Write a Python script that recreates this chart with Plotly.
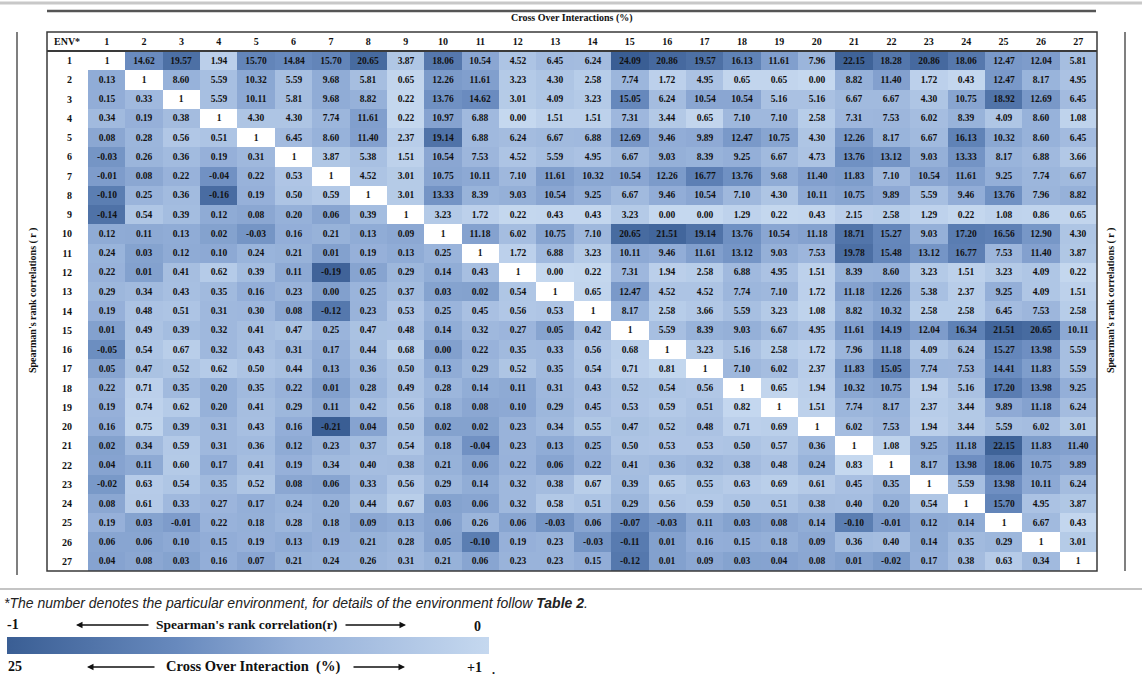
import plotly.graph_objects as go

# environments (rows / columns of the table)
env = [str(i) for i in range(1, 28)]

# lower triangle = Spearman's rank correlation (r), upper triangle = cross over interactions (%)
table_rows = [
    [1, 14.62, 19.57, 1.94, 15.70, 14.84, 15.70, 20.65, 3.87, 18.06, 10.54, 4.52, 6.45, 6.24, 24.09, 20.86, 19.57, 16.13, 11.61, 7.96, 22.15, 18.28, 20.86, 18.06, 12.47, 12.04, 5.81],
    [0.13, 1, 8.60, 5.59, 10.32, 5.59, 9.68, 5.81, 0.65, 12.26, 11.61, 3.23, 4.30, 2.58, 7.74, 1.72, 4.95, 0.65, 0.65, 0.00, 8.82, 11.40, 1.72, 0.43, 12.47, 8.17, 4.95],
    [0.15, 0.33, 1, 5.59, 10.11, 5.81, 9.68, 8.82, 0.22, 13.76, 14.62, 3.01, 4.09, 3.23, 15.05, 6.24, 10.54, 10.54, 5.16, 5.16, 6.67, 6.67, 4.30, 10.75, 18.92, 12.69, 6.45],
    [0.34, 0.19, 0.38, 1, 4.30, 4.30, 7.74, 11.61, 0.22, 10.97, 6.88, 0.00, 1.51, 1.51, 7.31, 3.44, 0.65, 7.10, 7.10, 2.58, 7.31, 7.53, 6.02, 8.39, 4.09, 8.60, 1.08],
    [0.08, 0.28, 0.56, 0.51, 1, 6.45, 8.60, 11.40, 2.37, 19.14, 6.88, 6.24, 6.67, 6.88, 12.69, 9.46, 9.89, 12.47, 10.75, 4.30, 12.26, 8.17, 6.67, 16.13, 10.32, 8.60, 6.45],
    [-0.03, 0.26, 0.36, 0.19, 0.31, 1, 3.87, 5.38, 1.51, 10.54, 7.53, 4.52, 5.59, 4.95, 6.67, 9.03, 8.39, 9.25, 6.67, 4.73, 13.76, 13.12, 9.03, 13.33, 8.17, 6.88, 3.66],
    [-0.01, 0.08, 0.22, -0.04, 0.22, 0.53, 1, 4.52, 3.01, 10.75, 10.11, 7.10, 11.61, 10.32, 10.54, 12.26, 16.77, 13.76, 9.68, 11.40, 11.83, 7.10, 10.54, 11.61, 9.25, 7.74, 6.67],
    [-0.10, 0.25, 0.36, -0.16, 0.19, 0.50, 0.59, 1, 3.01, 13.33, 8.39, 9.03, 10.54, 9.25, 6.67, 9.46, 10.54, 7.10, 4.30, 10.11, 10.75, 9.89, 5.59, 9.46, 13.76, 7.96, 8.82],
    [-0.14, 0.54, 0.39, 0.12, 0.08, 0.20, 0.06, 0.39, 1, 3.23, 1.72, 0.22, 0.43, 0.43, 3.23, 0.00, 0.00, 1.29, 0.22, 0.43, 2.15, 2.58, 1.29, 0.22, 1.08, 0.86, 0.65],
    [0.12, 0.11, 0.13, 0.02, -0.03, 0.16, 0.21, 0.13, 0.09, 1, 11.18, 6.02, 10.75, 7.10, 20.65, 21.51, 19.14, 13.76, 10.54, 11.18, 18.71, 15.27, 9.03, 17.20, 16.56, 12.90, 4.30],
    [0.24, 0.03, 0.12, 0.10, 0.24, 0.21, 0.01, 0.19, 0.13, 0.25, 1, 1.72, 6.88, 3.23, 10.11, 9.46, 11.61, 13.12, 9.03, 7.53, 19.78, 15.48, 13.12, 16.77, 7.53, 11.40, 3.87],
    [0.22, 0.01, 0.41, 0.62, 0.39, 0.11, -0.19, 0.05, 0.29, 0.14, 0.43, 1, 0.00, 0.22, 7.31, 1.94, 2.58, 6.88, 4.95, 1.51, 8.39, 8.60, 3.23, 1.51, 3.23, 4.09, 0.22],
    [0.29, 0.34, 0.43, 0.35, 0.16, 0.23, 0.00, 0.25, 0.37, 0.03, 0.02, 0.54, 1, 0.65, 12.47, 4.52, 4.52, 7.74, 7.10, 1.72, 11.18, 12.26, 5.38, 2.37, 9.25, 4.09, 1.51],
    [0.19, 0.48, 0.51, 0.31, 0.30, 0.08, -0.12, 0.23, 0.53, 0.25, 0.45, 0.56, 0.53, 1, 8.17, 2.58, 3.66, 5.59, 3.23, 1.08, 8.82, 10.32, 2.58, 2.58, 6.45, 7.53, 2.58],
    [0.01, 0.49, 0.39, 0.32, 0.41, 0.47, 0.25, 0.47, 0.48, 0.14, 0.32, 0.27, 0.05, 0.42, 1, 5.59, 8.39, 9.03, 6.67, 4.95, 11.61, 14.19, 12.04, 16.34, 21.51, 20.65, 10.11],
    [-0.05, 0.54, 0.67, 0.32, 0.43, 0.31, 0.17, 0.44, 0.68, 0.00, 0.22, 0.35, 0.33, 0.56, 0.68, 1, 3.23, 5.16, 2.58, 1.72, 7.96, 11.18, 4.09, 6.24, 15.27, 13.98, 5.59],
    [0.05, 0.47, 0.52, 0.62, 0.50, 0.44, 0.13, 0.36, 0.50, 0.13, 0.29, 0.52, 0.35, 0.54, 0.71, 0.81, 1, 7.10, 6.02, 2.37, 11.83, 15.05, 7.74, 7.53, 14.41, 11.83, 5.59],
    [0.22, 0.71, 0.35, 0.20, 0.35, 0.22, 0.01, 0.28, 0.49, 0.28, 0.14, 0.11, 0.31, 0.43, 0.52, 0.54, 0.56, 1, 0.65, 1.94, 10.32, 10.75, 1.94, 5.16, 17.20, 13.98, 9.25],
    [0.19, 0.74, 0.62, 0.20, 0.41, 0.29, 0.11, 0.42, 0.56, 0.18, 0.08, 0.10, 0.29, 0.45, 0.53, 0.59, 0.51, 0.82, 1, 1.51, 7.74, 8.17, 2.37, 3.44, 9.89, 11.18, 6.24],
    [0.16, 0.75, 0.39, 0.31, 0.43, 0.16, -0.21, 0.04, 0.50, 0.02, 0.02, 0.23, 0.34, 0.55, 0.47, 0.52, 0.48, 0.71, 0.69, 1, 6.02, 7.53, 1.94, 3.44, 5.59, 6.02, 3.01],
    [0.02, 0.34, 0.59, 0.31, 0.36, 0.12, 0.23, 0.37, 0.54, 0.18, -0.04, 0.23, 0.13, 0.25, 0.50, 0.53, 0.53, 0.50, 0.57, 0.36, 1, 1.08, 9.25, 11.18, 22.15, 11.83, 11.40],
    [0.04, 0.11, 0.60, 0.17, 0.41, 0.19, 0.34, 0.40, 0.38, 0.21, 0.06, 0.22, 0.06, 0.22, 0.41, 0.36, 0.32, 0.38, 0.48, 0.24, 0.83, 1, 8.17, 13.98, 18.06, 10.75, 9.89],
    [-0.02, 0.63, 0.54, 0.35, 0.52, 0.08, 0.06, 0.33, 0.56, 0.29, 0.14, 0.32, 0.38, 0.67, 0.39, 0.65, 0.55, 0.63, 0.69, 0.61, 0.45, 0.35, 1, 5.59, 13.98, 10.11, 6.24],
    [0.08, 0.61, 0.33, 0.27, 0.17, 0.24, 0.20, 0.44, 0.67, 0.03, 0.06, 0.32, 0.58, 0.51, 0.29, 0.56, 0.59, 0.50, 0.51, 0.38, 0.40, 0.20, 0.54, 1, 15.70, 4.95, 3.87],
    [0.19, 0.03, -0.01, 0.22, 0.18, 0.28, 0.18, 0.09, 0.13, 0.06, 0.26, 0.06, -0.03, 0.06, -0.07, -0.03, 0.11, 0.03, 0.08, 0.14, -0.10, -0.01, 0.12, 0.14, 1, 6.67, 0.43],
    [0.06, 0.06, 0.10, 0.15, 0.19, 0.13, 0.19, 0.21, 0.28, 0.05, -0.10, 0.19, 0.23, -0.03, -0.11, 0.01, 0.16, 0.15, 0.18, 0.09, 0.36, 0.40, 0.14, 0.35, 0.29, 1, 3.01],
    [0.04, 0.08, 0.03, 0.16, 0.07, 0.21, 0.24, 0.26, 0.31, 0.21, 0.06, 0.23, 0.23, 0.15, -0.12, 0.01, 0.09, 0.03, 0.04, 0.08, 0.01, -0.02, 0.17, 0.38, 0.63, 0.34, 1],
]

W, H = 1142, 677
SERIF = "Liberation Serif"


def px(x):
    return x / W


def py(y):
    return 1 - y / H


def shade(i, j, v):
    # 0 = darkest blue, 1 = lightest blue
    if j > i:  # cross over %
        s = 1 - v / 23
    elif v >= 0:  # correlation
        s = 0.5 + 0.6 * v
    else:
        s = 0.5 + 2.4 * v
    return min(max(s, 0), 1)


z, txt, zdiag, tdiag = [], [], [], []
for i, row in enumerate(table_rows):
    z.append([None if i == j else shade(i, j, v) for j, v in enumerate(row)])
    txt.append(["" if i == j else f"{v:.2f}" for j, v in enumerate(row)])
    zdiag.append([1 if i == j else None for j in range(len(row))])
    tdiag.append(["1" if i == j else "" for j in range(len(row))])

blues = [[0, "#3a5e94"], [0.35, "#6789bd"], [0.6, "#94afd8"], [1, "#c5d8ef"]]
cell_font = dict(family=SERIF, size=9.5, color="#111", weight="bold")

fig = go.Figure()
fig.add_trace(go.Heatmap(
    x=env, y=env, z=z, text=txt, texttemplate="%{text}", textfont=cell_font,
    colorscale=blues, zmin=0, zmax=1, hoverongaps=False,
    colorbar=dict(orientation="h", x=px(7), xanchor="left", y=py(637), yanchor="top",
                  len=482, lenmode="pixels", thickness=17, thicknessmode="pixels",
                  outlinewidth=0, showticklabels=False, ticks="", xpad=0, ypad=0),
))
fig.add_trace(go.Heatmap(
    x=env, y=env, z=zdiag, text=tdiag, texttemplate="%{text}", textfont=cell_font,
    colorscale=[[0, "white"], [1, "white"]], showscale=False, hoverongaps=False,
))

fig.update_xaxes(domain=[px(88), px(1097)], side="top", type="category", showgrid=False,
                 zeroline=False, ticks="", ticklabelstandoff=3,
                 tickfont=dict(family=SERIF, size=10, color="#111", weight="bold"))
fig.update_yaxes(domain=[py(571), py(51)], autorange="reversed", type="category", showgrid=False,
                 zeroline=False, ticks="", ticklabelstandoff=15,
                 tickfont=dict(family=SERIF, size=10, color="#111", weight="bold"))

line_dark = dict(color="#3a3a3a", width=1.5)
shapes = [
    dict(type="line", x0=0, x1=1, y0=py(3), y1=py(3), line=dict(color="#c8c8c8", width=3)),
    dict(type="line", x0=px(47), x1=px(1096), y0=py(11), y1=py(11), line=dict(color="#555", width=2.5)),
    dict(type="rect", x0=px(47), x1=px(1097), y0=py(571), y1=py(32), line=line_dark),
    dict(type="line", x0=px(47), x1=px(1097), y0=py(51), y1=py(51), line=dict(color="#3a3a3a", width=2)),
    dict(type="line", x0=px(17), x1=px(17), y0=py(32), y1=py(575), line=dict(color="#555", width=1.5)),
    dict(type="line", x0=px(1125), x1=px(1125), y0=py(32), y1=py(571), line=dict(color="#555", width=1.5)),
    dict(type="line", x0=0, x1=1, y0=py(589), y1=py(589), line=dict(color="#c4c4c4", width=2)),
]
for s in shapes:
    s.update(xref="paper", yref="paper")
fig.update_layout(shapes=shapes)

bold = dict(family=SERIF, color="#111", weight="bold")
ann = [
    dict(x=px(572), y=py(18), text="Cross Over Interactions (%)", font=dict(size=10, **bold)),
    dict(x=px(67), y=py(41.5), text="ENV*", font=dict(size=10, **bold)),
    dict(x=px(33), y=py(301), text="Spearman's rank correlations ( r )", textangle=-90, font=dict(size=10, **bold)),
    dict(x=px(1111), y=py(301), text="Spearman's rank correlations ( r )", textangle=-90, font=dict(size=10, **bold)),
    dict(x=px(13), y=py(624), text="-1", font=dict(size=14, **bold)),
    dict(x=px(246), y=py(624), text="Spearman's rank correlation(r)", font=dict(size=13.5, **bold)),
    dict(x=px(477), y=py(626), text="0", font=dict(size=14, **bold)),
    dict(x=px(15), y=py(666), text="25", font=dict(size=14, **bold)),
    dict(x=px(253), y=py(666), text="Cross Over Interaction  (%)", font=dict(size=14.5, **bold)),
    dict(x=px(474), y=py(667), text="+1", font=dict(size=14, **bold)),
    dict(x=px(493), y=py(670), text=".", font=dict(size=12, **bold)),
]
for a in ann:
    a.update(xanchor="center", yanchor="middle")
ann.append(dict(x=px(2), y=py(603), xanchor="left", yanchor="middle",
                text="<i>*The number denotes the particular environment, for details of the environment follow <b>Table 2</b>.</i>",
                font=dict(family="Liberation Sans", size=14, color="#222")))
for a in ann:
    a.update(xref="paper", yref="paper", showarrow=False)

# legend arrows
for head, tail, y in [(76, 150, 625), (406, 344, 625), (87, 156, 667), (405, 352, 667)]:
    ann.append(dict(xref="paper", yref="paper", x=px(head), y=py(y), ax=tail - head, ay=0,
                    text="", showarrow=True, arrowhead=2, arrowsize=1, arrowwidth=1.3, arrowcolor="#111"))

fig.update_layout(annotations=ann, width=W, height=H, margin=dict(l=0, r=0, t=0, b=0),
                  plot_bgcolor="white", paper_bgcolor="white", showlegend=False)

fig.write_html("out.html", config={"displayModeBar": False},
               post_script="document.body.style.margin='0px';")
